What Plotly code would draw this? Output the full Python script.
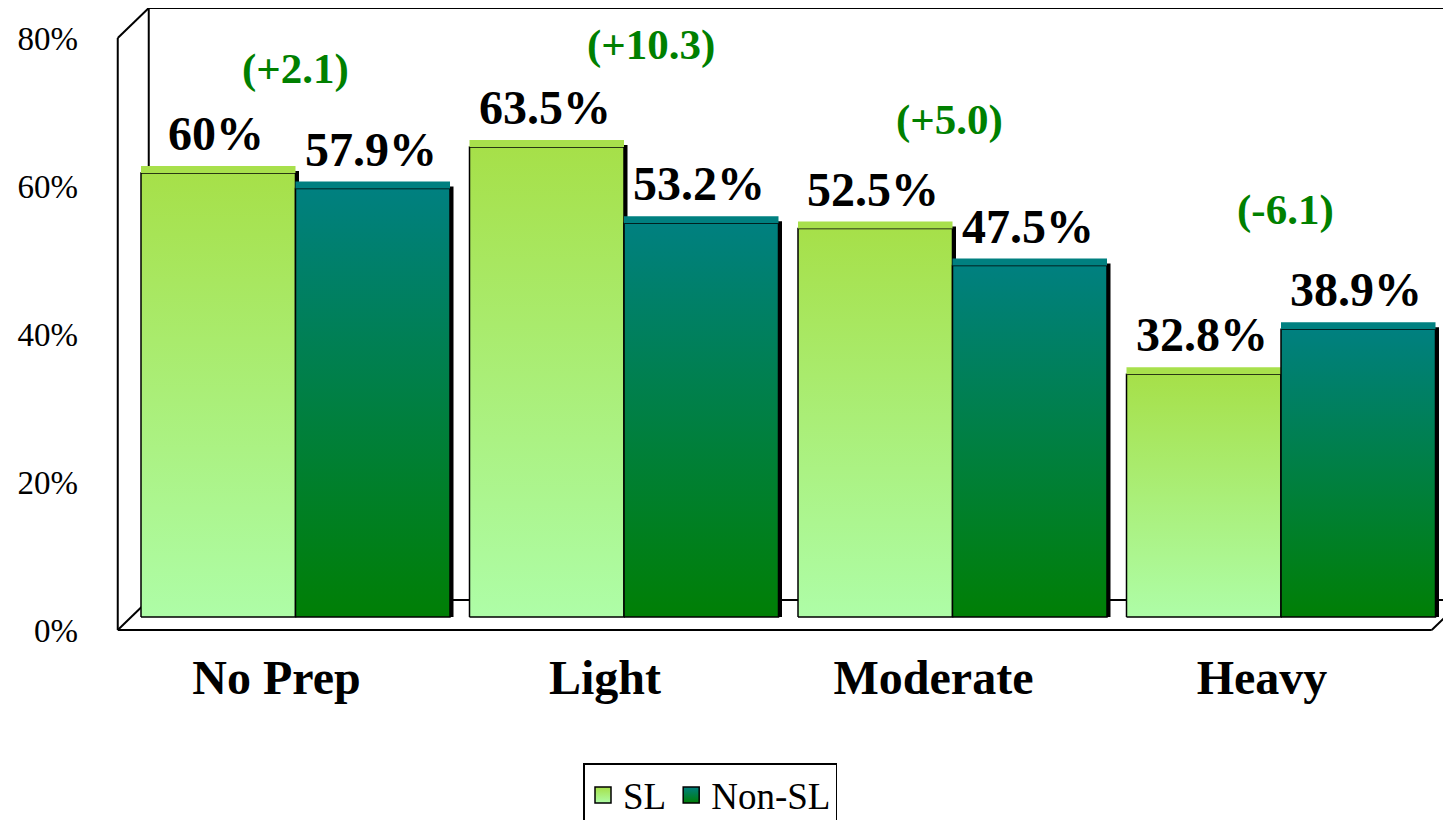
import plotly.graph_objects as go

# ---------------- data ----------------
categories = ["No Prep", "Light", "Moderate", "Heavy"]
series_names = ["SL", "Non-SL"]
sl_values = [60.0, 63.5, 52.5, 32.8]
nonsl_values = [57.9, 53.2, 47.5, 38.9]
diff_labels = ["(+2.1)", "(+10.3)", "(+5.0)", "(-6.1)"]
y_tick_values = [0, 20, 40, 60, 80]
y_tick_labels = ["0%", "20%", "40%", "60%", "80%"]

# ---------------- style / layout ----------------
OFF = 8                      # page body margin of the html page
W, H = 1451 - OFF, 820 - OFF
M_L = 110 - OFF
PLOT_H = 640 - OFF
M_B = H - PLOT_H
PX_PER_CAT = 328.5
PX_PER_UNIT = 7.4
CENTER0_PX = 295.5 - OFF
ZERO_PX = 617 - OFF
BAR_PX = 154.5
FONT = "Liberation Serif, Times New Roman, serif"

SL_GRAD = [[0, "#aefda7"], [1, "#a6e049"]]
NON_GRAD = [[0, "#007f05"], [1, "#008080"]]
SL_TOP = "#a8e04c"
NON_TOP = "#008080"

VALUE_YSHIFT = 11
DIFF_YSHIFT = [78, 76, 83, 93]
DIFF_XSHIFT = [0, 27, -3, 4]


def dx(px):
    return px / PX_PER_CAT


def dy(px):
    return px / PX_PER_UNIT


x_range = [(M_L - CENTER0_PX) / PX_PER_CAT, (W - CENTER0_PX) / PX_PER_CAT]
y_range = [-(PLOT_H - ZERO_PX) / PX_PER_UNIT, ZERO_PX / PX_PER_UNIT]
BAR_W = dx(BAR_PX)

fig = go.Figure()

series = [
    (series_names[0], sl_values, SL_GRAD, SL_TOP, -1),
    (series_names[1], nonsl_values, NON_GRAD, NON_TOP, 0),
]

annotations = []
for i, cat in enumerate(categories):
    for s_idx, (name, vals, grad, topc, side) in enumerate(series):
        v = vals[i]
        x0 = i + side * BAR_W if side < 0 else i
        x1 = i if side < 0 else i + BAR_W
        # right-side shadow (depth)
        fig.add_trace(go.Scatter(
            x=[x1 - dx(1), x1 - dx(1), x1 + dx(3.5), x1 + dx(3.5), x1 - dx(1)],
            y=[0, v + dy(2), v + dy(2), 0, 0],
            mode="lines", line=dict(width=0), fill="toself", fillcolor="#000000",
            showlegend=False, hoverinfo="skip"))
        # front face
        fig.add_trace(go.Scatter(
            x=[x0, x0, x1, x1, x0], y=[0, v, v, 0, 0],
            mode="lines", line=dict(color="#000000", width=1.5),
            fill="toself",
            fillgradient=dict(type="vertical", colorscale=grad),
            name=name, legendgroup=name, showlegend=False,
            hovertemplate=f"{cat}<br>{name}: {v}%<extra></extra>"))
        # top face
        fig.add_trace(go.Scatter(
            x=[x0, x0, x1, x1, x0], y=[v, v + dy(7), v + dy(7), v, v],
            mode="lines", line=dict(width=0), fill="toself", fillcolor=topc,
            showlegend=False, hoverinfo="skip"))
        annotations.append(dict(
            x=(x0 + x1) / 2, y=v, xref="x", yref="y", text=f"{v:g}%",
            showarrow=False, yanchor="bottom", xanchor="center",
            yshift=VALUE_YSHIFT, xshift=-2,
            font=dict(family=FONT, size=48, color="#000000", weight="bold")))
    top = max(sl_values[i], nonsl_values[i])
    annotations.append(dict(
        x=i, y=top, xref="x", yref="y", text=diff_labels[i],
        showarrow=False, yanchor="bottom", xanchor="center",
        yshift=DIFF_YSHIFT[i], xshift=DIFF_XSHIFT[i],
        font=dict(family=FONT, size=43, color="#008000", weight="bold")))

# legend entries (gradient square swatches)
for name, grad in [(series_names[0], SL_GRAD), (series_names[1], NON_GRAD)]:
    fig.add_trace(go.Scatter(
        x=[None], y=[None], mode="markers", name=name, legendgroup=name,
        marker=dict(symbol="square", size=16, color=grad[1][1],
                    gradient=dict(type="vertical", color=grad[0][1]),
                    line=dict(color="#000000", width=1.5)),
        showlegend=True, hoverinfo="skip"))

# 3D frame (walls and floor)
WALL_L, WALL_R = -0.5, len(categories) - 0.5
Y_TOP = y_tick_values[-1]
F_DX, F_DY = dx(-13.5), dy(-13)
B_DX, B_DY = dx(17.5), dy(17)
FL, FR = WALL_L + F_DX, WALL_R + F_DX
BL, BR = WALL_L + B_DX, WALL_R + B_DX
F0, F80 = 0 + F_DY, Y_TOP + F_DY
B0, B80 = 0 + B_DY, Y_TOP + B_DY

frame_lines = [
    (FL, F0, FL, F80),
    (FL, F80, BL, B80),
    (BL, B0, BL, B80),
    (BL, B80, BR, B80),
    (BL, B0, BR, B0),
    (FL, F0, BL, B0),
    (FL, F0, FR, F0),
    (FR, F0, BR, B0),
    (BR, B0, BR, B80),
]
shapes = [dict(type="line", xref="x", yref="y", x0=a, y0=b, x1=c, y1=d,
               line=dict(color="#000000", width=2), layer="below")
          for a, b, c, d in frame_lines]

fig.update_layout(
    width=W, height=H,
    margin=dict(l=M_L, r=0, t=0, b=M_B, autoexpand=False),
    paper_bgcolor="white", plot_bgcolor="white",
    showlegend=True,
    shapes=shapes,
    annotations=annotations,
    xaxis=dict(
        range=x_range, tickmode="array",
        tickvals=list(range(len(categories))), ticktext=categories,
        showgrid=False, zeroline=False, showline=False, ticks="",
        ticklabelshift=-19, ticklabelstandoff=5, automargin=False,
        tickfont=dict(family=FONT, size=48, color="#000000", weight="bold"),
        fixedrange=True),
    yaxis=dict(
        range=y_range, tickmode="array",
        tickvals=y_tick_values, ticktext=y_tick_labels,
        showgrid=False, zeroline=False, showline=False, ticks="",
        ticklabelshift=13, ticklabelstandoff=31, automargin=False,
        tickfont=dict(family=FONT, size=33, color="#000000"),
        fixedrange=True),
    legend=dict(
        orientation="h", x=(583 - OFF - M_L) / (W - M_L),
        y=(PLOT_H - (763 - OFF)) / PLOT_H,
        xanchor="left", yanchor="top",
        bordercolor="#000000", borderwidth=1.5, bgcolor="white",
        font=dict(family=FONT, size=37, color="#000000"),
        itemsizing="trace", tracegroupgap=0),
)

fig.write_html("out.html")
